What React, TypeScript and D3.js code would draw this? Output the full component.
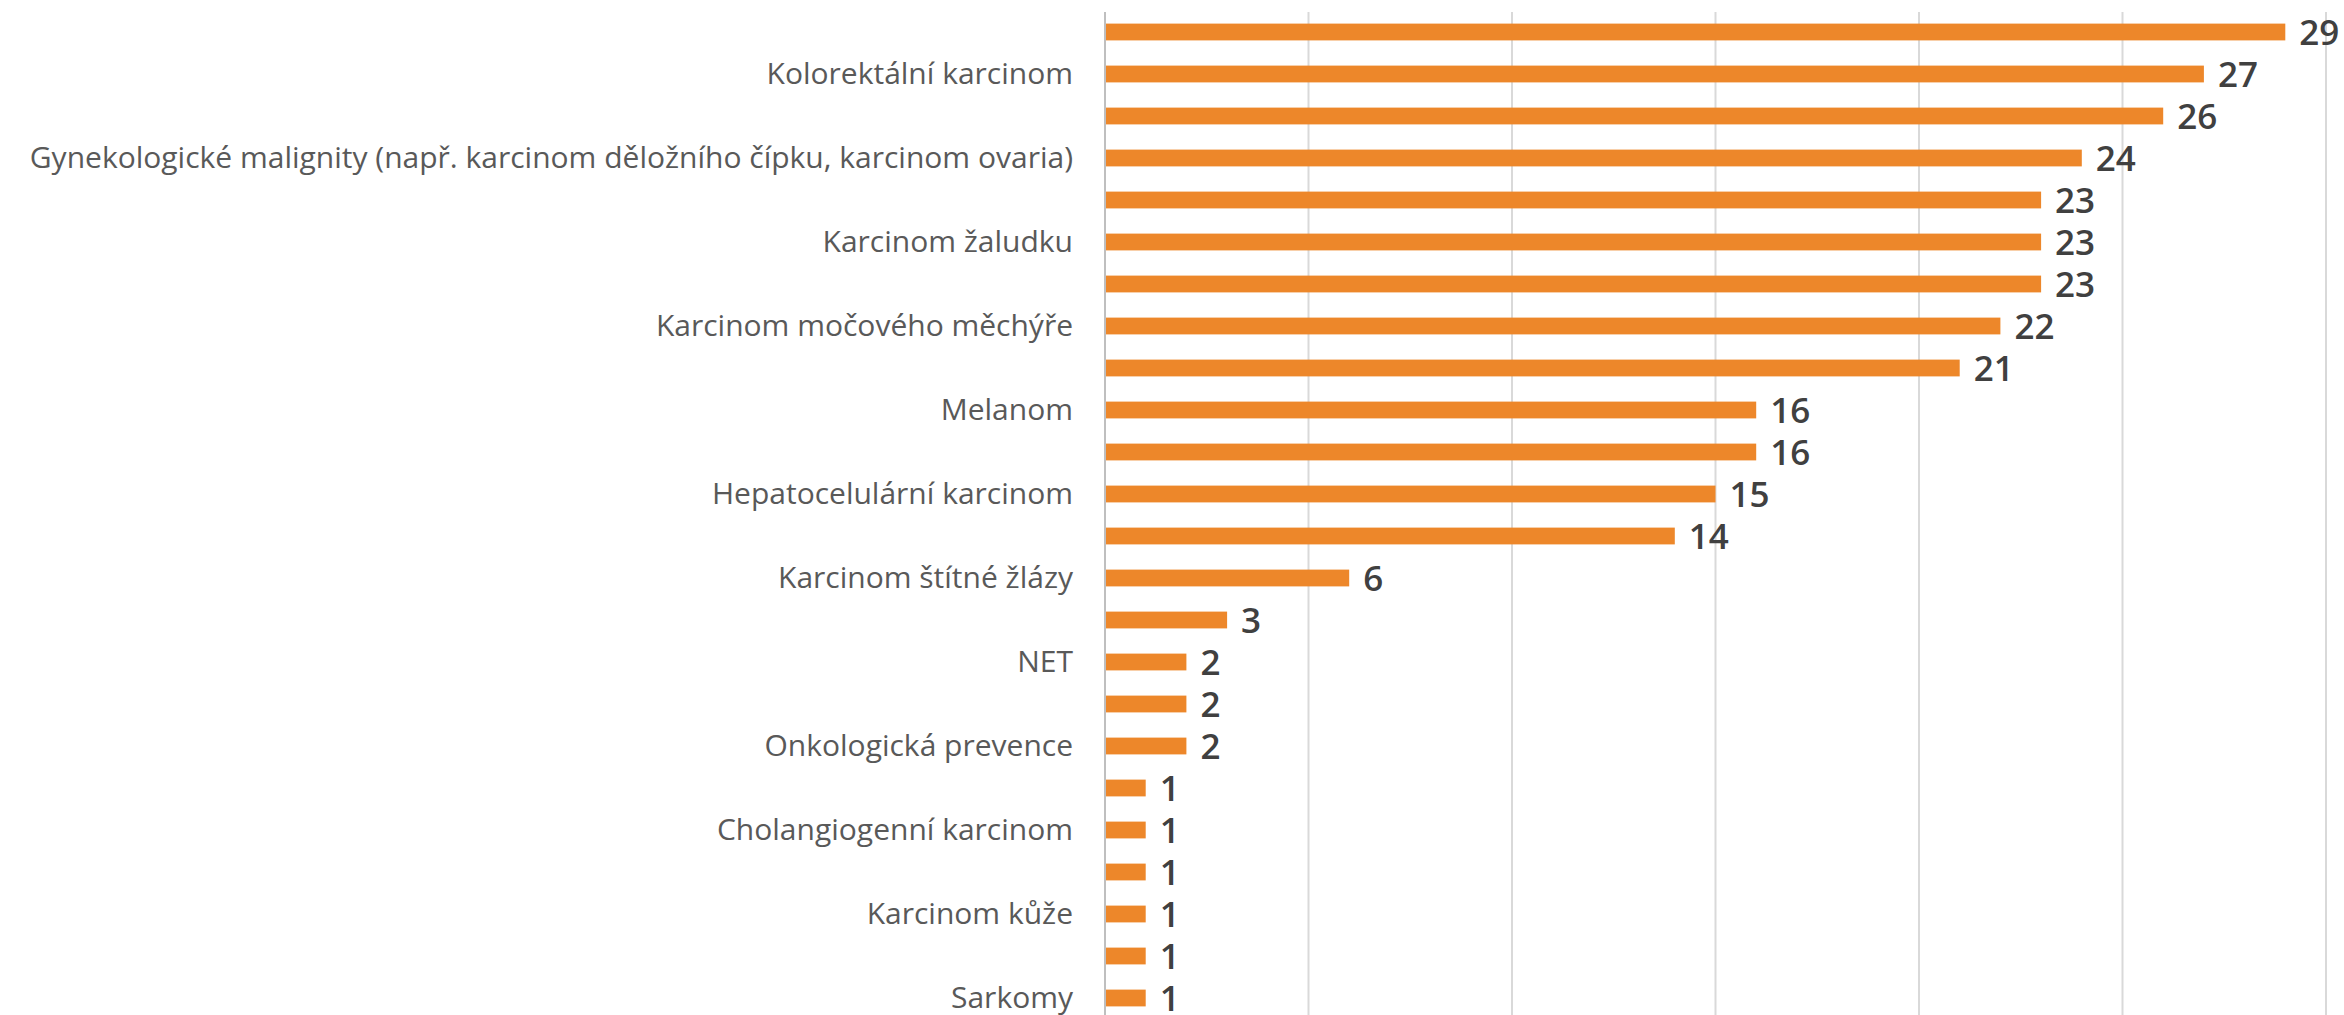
import React from 'react'
import * as d3 from 'd3'

// categories top to bottom; hidden (unlabelled) rows are blank in the source chart
const categories = [
  '', 'Kolorektální karcinom', '', 'Gynekologické malignity (např. karcinom děložního čípku, karcinom ovaria)',
  '', 'Karcinom žaludku', '', 'Karcinom močového měchýře',
  '', 'Melanom', '', 'Hepatocelulární karcinom',
  '', 'Karcinom štítné žlázy', '', 'NET',
  '', 'Onkologická prevence', '', 'Cholangiogenní karcinom',
  '', 'Karcinom kůže', '', 'Sarkomy',
]
const values = [29, 27, 26, 24, 23, 23, 23, 22, 21, 16, 16, 15, 14, 6, 3, 2, 2, 2, 1, 1, 1, 1, 1, 1]
const gridTicks = [0, 5, 10, 15, 20, 25, 30]

const W = 2344
const H = 1015

export default function App() {
  const layout = {top: 11, bottom: 1019, left: 1105, right: 2326}
  const ids = values.map((_, i) => String(i))

  const xScale = d3.scaleLinear().domain([0, 30]).range([layout.left, layout.right])
  const yScale = d3.scaleBand().domain(ids).range([layout.top, layout.bottom]).paddingInner(0.6).paddingOuter(0.3)

  return (
    <svg width={W} height={H} style={{position: 'absolute', left: 0, top: 0}}>
      <rect width={W} height={H} fill="#fff" />
      <g id="grid">
        {gridTicks.map(t => (
          <line key={t} x1={xScale(t)} x2={xScale(t)} y1={12} y2={H}
            stroke={t === 0 ? '#bfbfbf' : '#d9d9d9'} strokeWidth={2} />
        ))}
      </g>
      <g id="bars">
        {values.map((v, i) => (
          <rect key={i} x={xScale(0) + 1} y={yScale(ids[i])} width={xScale(v) - xScale(0) - 1}
            height={yScale.bandwidth()} fill="#ED872A" />
        ))}
      </g>
      <g id="values" fontFamily="'Open Sans', sans-serif" fontSize={35} fontWeight={600} fill="#404040">
        {values.map((v, i) => (
          <text key={i} x={xScale(v) + 14} y={yScale(ids[i])! + yScale.bandwidth() / 2 + 13}>{v}</text>
        ))}
      </g>
      <g id="labels" fontFamily="'Open Sans', sans-serif" fontSize={30} fill="#595959" textAnchor="end">
        {categories.map((c, i) => c ? (
          <text key={i} x={layout.left - 32} y={yScale(ids[i])! + yScale.bandwidth() / 2 + 10}>{c}</text>
        ) : null)}
      </g>
    </svg>
  )
}
